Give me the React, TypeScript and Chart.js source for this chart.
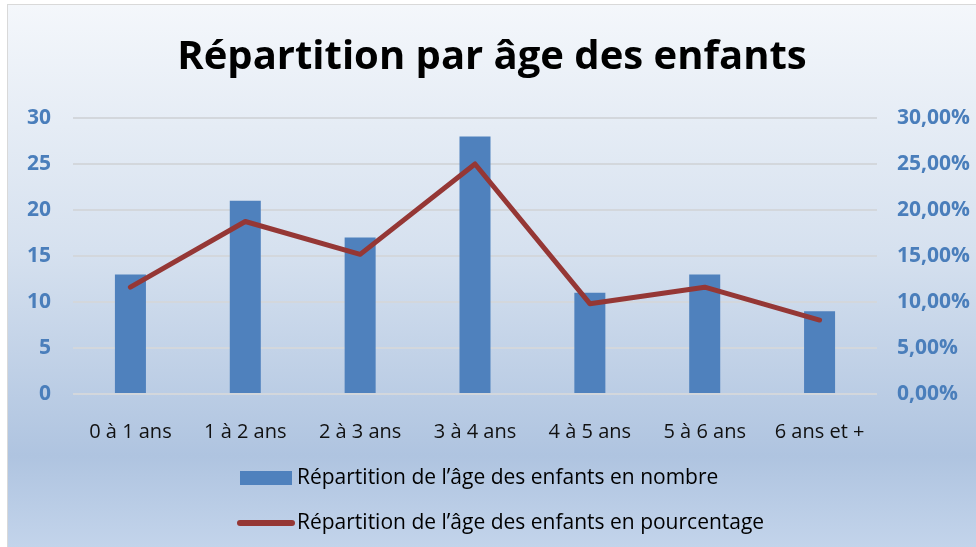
import React, { useEffect, useRef } from "react";
import { Chart, registerables } from "chart.js";

Chart.register(...registerables);

const TITLE = "Répartition par âge des enfants";
const categories = ["0 à 1 ans", "1 à 2 ans", "2 à 3 ans", "3 à 4 ans", "4 à 5 ans", "5 à 6 ans", "6 ans et +"];
const countValues = [13, 21, 17, 28, 11, 13, 9];
const percentValues = [11.61, 18.75, 15.18, 25.0, 9.82, 11.61, 8.04];
const countLabel = "Répartition de l’âge des enfants en nombre";
const percentLabel = "Répartition de l’âge des enfants en pourcentage";

const BAR_COLOR = "#4F81BD";
const LINE_COLOR = "#953735";
const TICK_COLOR = "#4A7EBB";
const FONT = "'Open Sans', 'DejaVu Sans', sans-serif";

const legendPlugin = {
  id: "customLegend",
  afterDraw(chart: any) {
    const ctx = chart.ctx;
    const rows = [473, 518];
    ctx.save();
    chart.data.datasets.forEach((ds: any, i: number) => {
      const y = rows[i];
      if (ds.type === "line") {
        ctx.strokeStyle = ds.borderColor;
        ctx.lineWidth = 6;
        ctx.lineCap = "round";
        ctx.beginPath();
        ctx.moveTo(232, y);
        ctx.lineTo(284, y);
        ctx.stroke();
      } else {
        ctx.fillStyle = ds.backgroundColor;
        ctx.fillRect(232, y - 7, 52, 14);
      }
      ctx.fillStyle = "#000";
      ctx.font = `21px ${FONT}`;
      ctx.textBaseline = "middle";
      ctx.textAlign = "left";
      ctx.fillText(ds.label, 289, y);
    });
    ctx.restore();
  },
};

export default function App() {
  const ref = useRef<HTMLCanvasElement | null>(null);
  useEffect(() => {
    document.body.style.margin = "0";
    document.body.style.overflow = "hidden";
    if (!ref.current) return;
    const chart = new Chart(ref.current, {
      type: "bar",
      data: {
        labels: categories,
        datasets: [
          {
            type: "bar",
            label: countLabel,
            data: countValues,
            backgroundColor: BAR_COLOR,
            barPercentage: 0.27,
            categoryPercentage: 1,
            yAxisID: "y",
            order: 1,
          },
          {
            type: "line",
            label: percentLabel,
            data: percentValues,
            borderColor: LINE_COLOR,
            backgroundColor: LINE_COLOR,
            borderWidth: 5,
            pointRadius: 0,
            tension: 0,
            borderCapStyle: "round",
            borderJoinStyle: "round",
            yAxisID: "y1",
            order: 0,
          } as any,
        ],
      },
      options: {
        responsive: false,
        animation: false,
        layout: { padding: { top: 0, left: 0, right: 0, bottom: 0 } },
        plugins: {
          legend: { display: false },
          tooltip: { enabled: false },
          title: {
            display: true,
            text: TITLE,
            color: "#000",
            font: { family: FONT, size: 40, weight: "bold" },
            padding: { top: 29, bottom: 36 },
          },
        },
        scales: {
          x: {
            grid: { display: false },
            border: { display: false },
            ticks: { color: "#111", font: { family: FONT, size: 20 }, padding: 18 },
            afterFit(scale: any) {
              scale.height = 153;
            },
          },
          y: {
            position: "left",
            min: 0,
            max: 30,
            ticks: { stepSize: 5, color: TICK_COLOR, font: { family: FONT, size: 21, weight: "bold" }, padding: 22 },
            grid: { color: "#D3D7DC", lineWidth: 2, drawTicks: false },
            border: { display: false },
            afterFit(scale: any) {
              scale.width = 65;
            },
          },
          y1: {
            position: "right",
            min: 0,
            max: 30,
            ticks: {
              stepSize: 5,
              color: TICK_COLOR,
              font: { family: FONT, size: 21, weight: "bold" },
              padding: 20,
              callback: (v: any) => Number(v).toFixed(2).replace(".", ",") + "%",
            },
            grid: { display: false, drawTicks: false },
            border: { display: false },
            afterFit(scale: any) {
              scale.width = 99;
            },
          },
        },
      },
      plugins: [legendPlugin],
    });
    return () => chart.destroy();
  }, []);

  return (
    <div
      style={{
        position: "absolute",
        left: 7,
        top: 4,
        width: 969,
        height: 543,
        borderTop: "1px solid #D9D9D9",
        borderLeft: "1px solid #D9D9D9",
        background: "linear-gradient(to bottom, #F4F7FB 0%, #D6E1EF 45%, #AFC4E0 83%, #C3D4EB 100%)",
        overflow: "hidden",
      }}
    >
      <canvas ref={ref} width={968} height={542} style={{ display: "block" }} />
    </div>
  );
}
